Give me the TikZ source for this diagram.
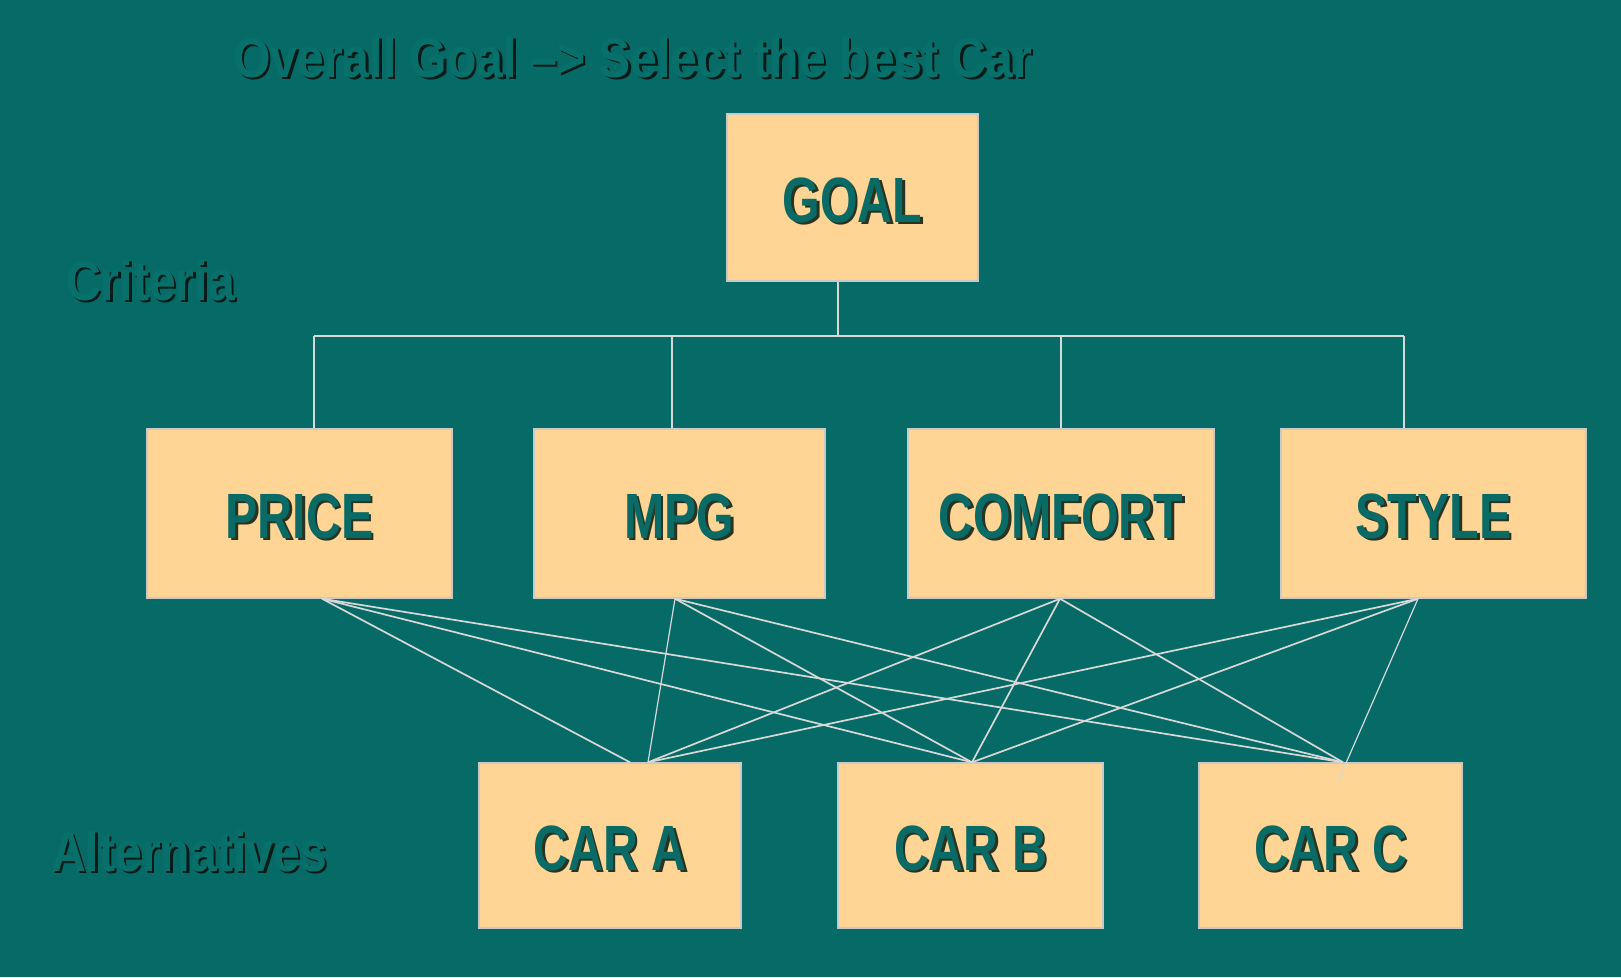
\documentclass[tikz,border=0pt]{standalone}
\usepackage{fontspec}
\usetikzlibrary{calc}
\newfontfamily\boxfont{Liberation Sans}[FakeStretch=0.755]
\newfontfamily\labelfont{Liberation Sans}[FakeStretch=0.86]
\definecolor{slate}{HTML}{066B66}
\definecolor{cream}{HTML}{FFD596}
\definecolor{inkteal}{HTML}{0A6B66}
\definecolor{boxshade}{HTML}{2A3320}
\definecolor{labelteal}{HTML}{08706B}
\definecolor{labelshade}{HTML}{061A18}
\definecolor{wire}{HTML}{D8D8D8}
\definecolor{frame}{HTML}{C9C9C9}
% raised lettering: a dark copy shifted down-right under the coloured text
\newcommand\embossed[3]{\rlap{\hspace{2.5pt}\raisebox{-2.5pt}{\textcolor{#2}{#1}}}\textcolor{#3}{#1}}
% box caption, set a little below the optical centre
\newcommand\boxcaption[1]{\raisebox{-4pt}[\height][\depth]{\embossed{#1}{boxshade}{inkteal}}}
\begin{document}
\begin{tikzpicture}[x=1pt,y=-1pt,
  block/.style={draw=frame,line width=1.4pt,fill=cream,inner sep=0pt,
    font=\boxfont\bfseries\fontsize{64}{64}\selectfont},
  heading/.style={inner sep=0pt,anchor=base west,
    font=\labelfont\bfseries\fontsize{56}{56}\selectfont},
  bus/.style={draw=wire,line width=1.4pt},
  link/.style={draw=wire,line width=1.7pt},
  thinlink/.style={draw=wire,line width=1.2pt}]
% backdrop
\fill[slate] (0,0) rectangle (1621,977);
\useasboundingbox (0,0) rectangle (1621,977);

% headings
\node[heading] (title) at (233,77)
  {\embossed{Overall Goal –> Select the best Car}{labelshade}{labelteal}};
\node[heading] (crit) at (66,300) {\embossed{Criteria}{labelshade}{labelteal}};
\node[heading] (alts) at (51,871) {\embossed{Alternatives}{labelshade}{labelteal}};

% goal
\node[block,minimum width=251pt,minimum height=167pt] (goal) at (852.5,197.5)
  {\boxcaption{GOAL}};

% criteria
\node[block,minimum width=305pt,minimum height=169pt] (price) at (299.5,513.5)
  {\boxcaption{PRICE}};
\node[block,minimum width=291pt,minimum height=169pt] (mpg) at (679.5,513.5)
  {\boxcaption{MPG}};
\node[block,minimum width=306pt,minimum height=169pt] (comfort) at (1061,513.5)
  {\boxcaption{COMFORT}};
\node[block,minimum width=305pt,minimum height=169pt] (style) at (1433.5,513.5)
  {\boxcaption{STYLE}};

% alternatives
\node[block,minimum width=262pt,minimum height=165pt] (cara) at (610,845.5)
  {\boxcaption{CAR A}};
\node[block,minimum width=265pt,minimum height=165pt] (carb) at (970.5,845.5)
  {\boxcaption{CAR B}};
\node[block,minimum width=263pt,minimum height=165pt] (carc) at (1330.5,845.5)
  {\boxcaption{CAR C}};

% tree from the goal to the criteria
\coordinate (hub) at (838,336);
\coordinate (dP) at (314,336);
\coordinate (dM) at (672,336);
\coordinate (dC) at (1061,336);
\coordinate (dS) at (1404,336);
\draw[bus] (hub |- goal.south) -- (hub);
\draw[bus] (dP) -- (dS);
\draw[bus] (dP) -- (dP |- price.north);
\draw[bus] (dM) -- (dM |- mpg.north);
\draw[bus] (dC) -- (dC |- comfort.north);
\draw[bus] (dS) -- (dS |- style.north);

% every criterion feeds every alternative
\coordinate (pP) at ($(price.south)+(22.5,0)$);
\coordinate (pM) at ($(mpg.south)+(-4.5,0)$);
\coordinate (pC) at ($(comfort.south)+(-1,0)$);
\coordinate (pS) at ($(style.south)+(-15.5,0)$);
\coordinate (aP) at ($(cara.north)+(20,0)$);
\coordinate (aA) at ($(cara.north)+(38,0)$);
\coordinate (bB) at ($(carb.north)+(1.5,0)$);
\coordinate (cC) at ($(carc.north)+(12.5,0)$);
\coordinate (cTail) at ($(carc.north)+(7.5,19)$);

\draw[link] (pP) -- (aP);
\draw[link] (pP) -- (bB);
\draw[link] (pP) -- (cC);
\draw[thinlink] (pM) -- (aA);
\draw[link] (pM) -- (bB);
\draw[link] (pM) -- (cC);
\draw[link] (pC) -- (aA);
\draw[link] (pC) -- (bB);
\draw[link] (pC) -- (cC);
\draw[link] (pS) -- (aA);
\draw[link] (pS) -- (bB);
\draw[thinlink] (pS) -- (cTail);
\end{tikzpicture}
\end{document}
